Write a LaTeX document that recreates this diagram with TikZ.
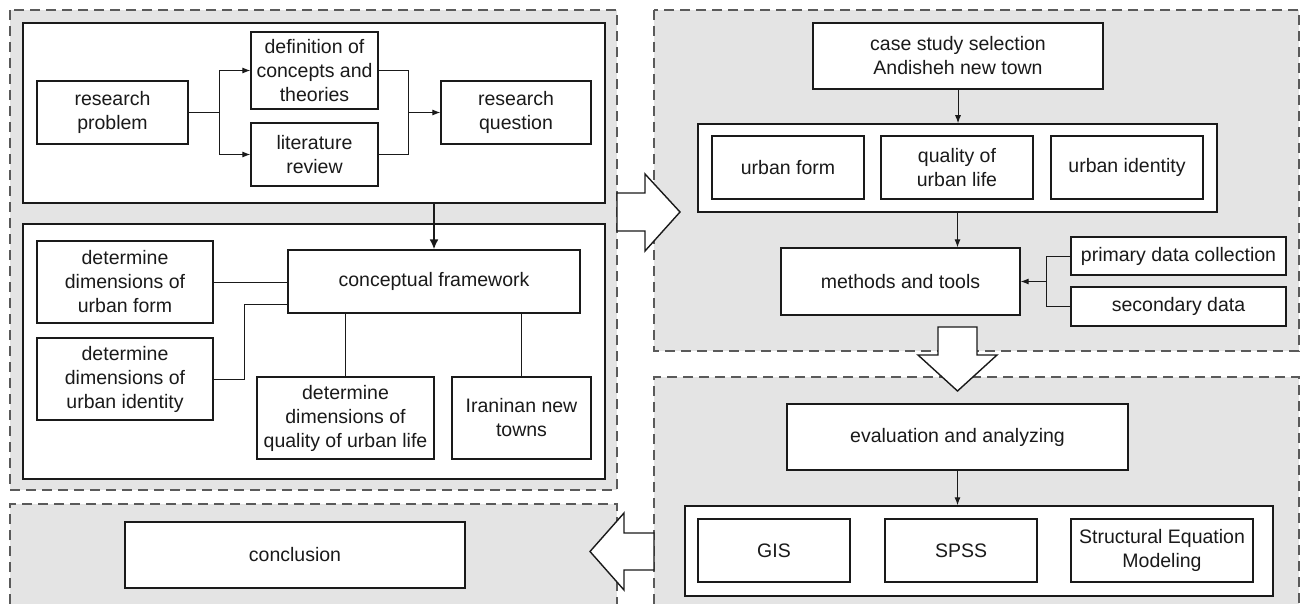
\documentclass[tikz,border=0pt]{standalone}
\usepackage{fontspec}
\setmainfont{Liberation Sans}
\usetikzlibrary{arrows.meta}
\definecolor{panel}{HTML}{E4E4E4}
\definecolor{dashcol}{HTML}{5A5A5A}
\definecolor{ink}{HTML}{1A1A1A}
\begin{document}
\begin{tikzpicture}[x=1pt,y=-1pt,
  txt/.style={font=\fontsize{19.5}{24}\selectfont, text=ink, align=center},
  box/.style={txt, draw=ink, fill=white, line width=1.2pt, inner sep=0pt},
  holder/.style={draw=ink, fill=white, line width=1.5pt, inner sep=0pt},
  region/.style={draw=dashcol, line width=1.1pt, dash pattern=on 10pt off 6pt},
  conn/.style={draw=ink, line width=1pt},
  arr/.style={conn, -{Latex[length=8pt,width=6pt]}},
  heavy/.style={draw=ink, line width=2.6pt, -{Latex[length=10pt,width=9pt]}},
  blockarrow/.style={draw=ink, fill=white, line width=1.4pt, line join=miter}
]
\useasboundingbox (0,0) rectangle (1305,604);

% dashed panels
\fill[panel] (10,10) rectangle (617,490);
\draw[region] (10,10) rectangle (617,490);
\fill[panel] (654,10) rectangle (1299,351);
\draw[region] (654,10) rectangle (1299,351);
\fill[panel] (654,377) rectangle (1299,604);
\draw[region] (654,604) -- (654,377) -- (1299,377) -- (1299,604);
\fill[panel] (10,504) rectangle (617,604);
\draw[region] (10,604) -- (10,504) -- (617,504) -- (617,604);

% block arrows between panels
\draw[blockarrow] (617,193) -- (645,193) -- (645,174) -- (680,212) -- (645,251) -- (645,231) -- (617,231) -- cycle;
\draw[blockarrow] (938,327) -- (977,327) -- (977,355) -- (997,355) -- (957.5,391) -- (918,355) -- (938,355) -- cycle;
\draw[blockarrow] (654,533) -- (624,533) -- (624,513) -- (590,551.5) -- (624,590) -- (624,570) -- (654,570) -- cycle;

% problem definition stage
\node[holder, minimum width=582, minimum height=180] (box1) at (314,113) {};
\node[box, minimum width=151, minimum height=63] (rp) at (112.5,112.5) {research\\problem};
\node[box, minimum width=127, minimum height=77] (def) at (314.5,70.5) {definition of\\concepts and\\theories};
\node[box, minimum width=127, minimum height=63] (lit) at (314.5,154.5) {literature\\review};
\node[box, minimum width=150, minimum height=63] (rq) at (516,112.5) {research\\question};
\coordinate (split) at (219,112.5);
\coordinate (merge) at (408,112.5);
\draw[conn] (rp.east) -- (split);
\draw[arr] (split) |- (def.west);
\draw[arr] (split) |- (lit.west);
\draw[conn] (def.east) -| (merge);
\draw[conn] (lit.east) -| (merge);
\draw[arr] (merge) -- (rq.west);

% conceptual framework stage
\node[holder, minimum width=582, minimum height=255] (box2) at (314,351.5) {};
\node[box, minimum width=176, minimum height=82] (duf) at (125,282) {determine\\dimensions of\\urban form};
\node[box, minimum width=176, minimum height=82] (dui) at (125,379) {determine\\dimensions of\\urban identity};
\node[box, minimum width=292, minimum height=63] (cf) at (434,281.5) {conceptual framework};
\node[box, minimum width=177, minimum height=82] (dql) at (345.5,418) {determine\\dimensions of\\quality of urban life};
\node[box, minimum width=139, minimum height=82] (int) at (521.5,418) {Iraninan new\\towns};
\coordinate (cfin) at (288,304);
\draw[heavy] (box1.south -| cf.north) -- (cf.north);
\draw[conn] (duf.east) -- (duf.east -| cf.west);
\draw[conn] (dui.east) -- (244,379) |- (cfin);
\draw[conn] (cf.south -| dql.north) -- (dql.north);
\draw[conn] (cf.south -| int.north) -- (int.north);

% case study stage
\node[box, minimum width=290, minimum height=66] (case) at (958,56) {case study selection\\Andisheh new town};
\node[holder, minimum width=519, minimum height=88] (cont1) at (957.5,168) {};
\node[box, minimum width=152, minimum height=63] (uf) at (788,167.5) {urban form};
\node[box, minimum width=152, minimum height=63] (qul) at (957,167.5) {quality of\\urban life};
\node[box, minimum width=152, minimum height=63] (uid) at (1127,167.5) {urban identity};
\node[box, minimum width=239, minimum height=67] (mt) at (900.5,281.5) {methods and tools};
\node[box, minimum width=215, minimum height=38] (pdc) at (1178.5,256) {primary data collection};
\node[box, minimum width=215, minimum height=39] (sd) at (1178.5,306.5) {secondary data};
\coordinate (join) at (1046,281.5);
\draw[arr] (case.south) -- (case.south |- cont1.north);
\draw[arr] (cont1.south) -- (cont1.south |- mt.north);
\draw[conn] (pdc.west) -| (join);
\draw[conn] (sd.west) -| (join);
\draw[arr] (join) -- (mt.east);

% analysis stage
\node[box, minimum width=341, minimum height=66] (eval) at (957.5,437) {evaluation and analyzing};
\node[holder, minimum width=588, minimum height=90] (cont2) at (979,551) {};
\node[box, minimum width=152, minimum height=63] (gis) at (774,550.5) {GIS};
\node[box, minimum width=152, minimum height=63] (spss) at (961,550.5) {SPSS};
\node[box, minimum width=182, minimum height=63] (sem) at (1162,550.5) {Structural Equation\\Modeling};
\draw[arr] (eval.south) -- (eval.south |- cont2.north);

% conclusion
\node[box, minimum width=340, minimum height=66] (concl) at (295,555) {conclusion};
\end{tikzpicture}
\end{document}
